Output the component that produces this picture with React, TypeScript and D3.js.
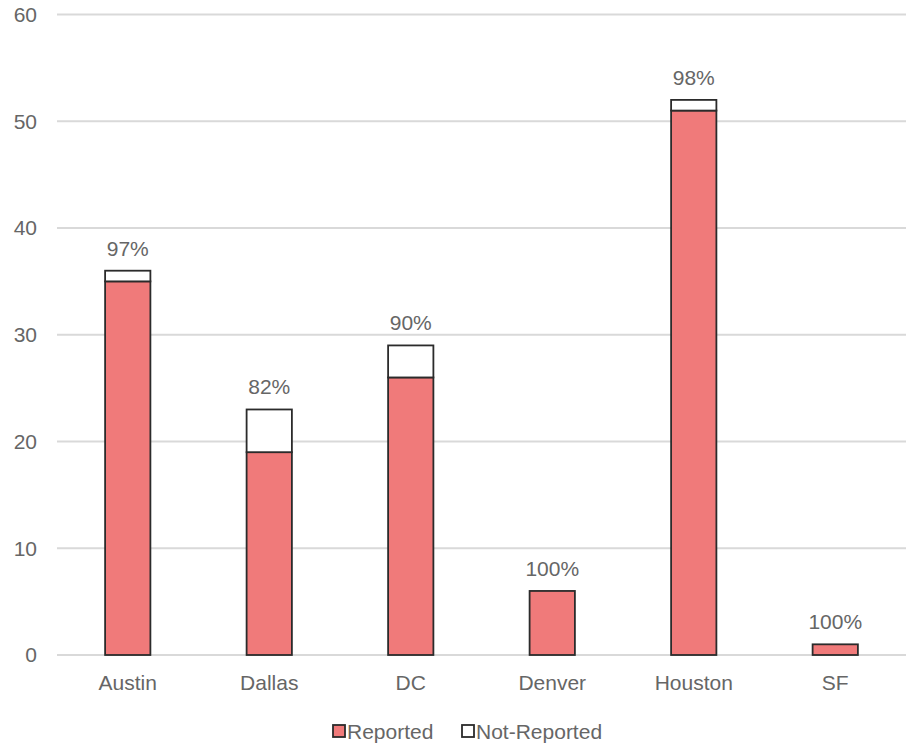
import React from "react";
import * as d3 from "d3";

const cities = ["Austin", "Dallas", "DC", "Denver", "Houston", "SF"];
const reported = [35, 19, 26, 6, 51, 1];
const notReported = [1, 4, 3, 0, 1, 0];
const pctLabels = ["97%", "82%", "90%", "100%", "98%", "100%"];
const yTicks = [0, 10, 20, 30, 40, 50, 60];

const W = 911;
const H = 743;
const left = 57;
const right = 906;
const top = 14.5;
const bottom = 655;
const font = "'Liberation Sans', Arial, sans-serif";
const textColor = "#666";
const red = "#F07A7A";

export default function App() {
  const x = d3.scaleBand<string>().domain(cities).range([left, right]).paddingInner(0.68).paddingOuter(0.34);
  const y = d3.scaleLinear().domain([0, 60]).range([bottom, top]);

  const rows = cities.map((c, i) => ({ city: c, reported: reported[i], notReported: notReported[i] }));
  const stacked = d3.stack<any>().keys(["reported", "notReported"])(rows);
  const fills = [red, "#fff"];

  return (
    <svg width={W} height={H} style={{ position: "absolute", left: 0, top: 0 }} fontFamily={font}>
      {yTicks.map((t) => (
        <g key={t}>
          <line x1={left} x2={right} y1={y(t)} y2={y(t)} stroke="#d9d9d9" strokeWidth={2} />
          <text x={37} y={y(t)} dy="0.35em" textAnchor="end" fontSize={21} fill={textColor}>{t}</text>
        </g>
      ))}
      {stacked.map((s, si) =>
        s.map((d, i) =>
          d[1] - d[0] > 0 ? (
            <rect
              key={si + "-" + i}
              x={x(cities[i])!}
              width={x.bandwidth()}
              y={y(d[1])}
              height={y(d[0]) - y(d[1])}
              fill={fills[si]}
              stroke="#2b2b2b"
              strokeWidth={1.8}
            />
          ) : null
        )
      )}
      {cities.map((c, i) => (
        <text key={c + "p"} x={x(c)! + x.bandwidth() / 2} y={y(reported[i] + notReported[i]) - 15} textAnchor="middle" fontSize={21} fill={textColor}>
          {pctLabels[i]}
        </text>
      ))}
      {cities.map((c) => (
        <text key={c} x={x(c)! + x.bandwidth() / 2} y={690} textAnchor="middle" fontSize={21} fill={textColor}>{c}</text>
      ))}
      <g>
        <rect x={333} y={725} width={12} height={12} fill={red} stroke="#2b2b2b" strokeWidth={1.8} />
        <text x={347} y={739} fontSize={21} fill={textColor}>Reported</text>
        <rect x={462} y={725} width={12} height={12} fill="#fff" stroke="#2b2b2b" strokeWidth={1.8} />
        <text x={476} y={739} fontSize={21} fill={textColor}>Not-Reported</text>
      </g>
    </svg>
  );
}
